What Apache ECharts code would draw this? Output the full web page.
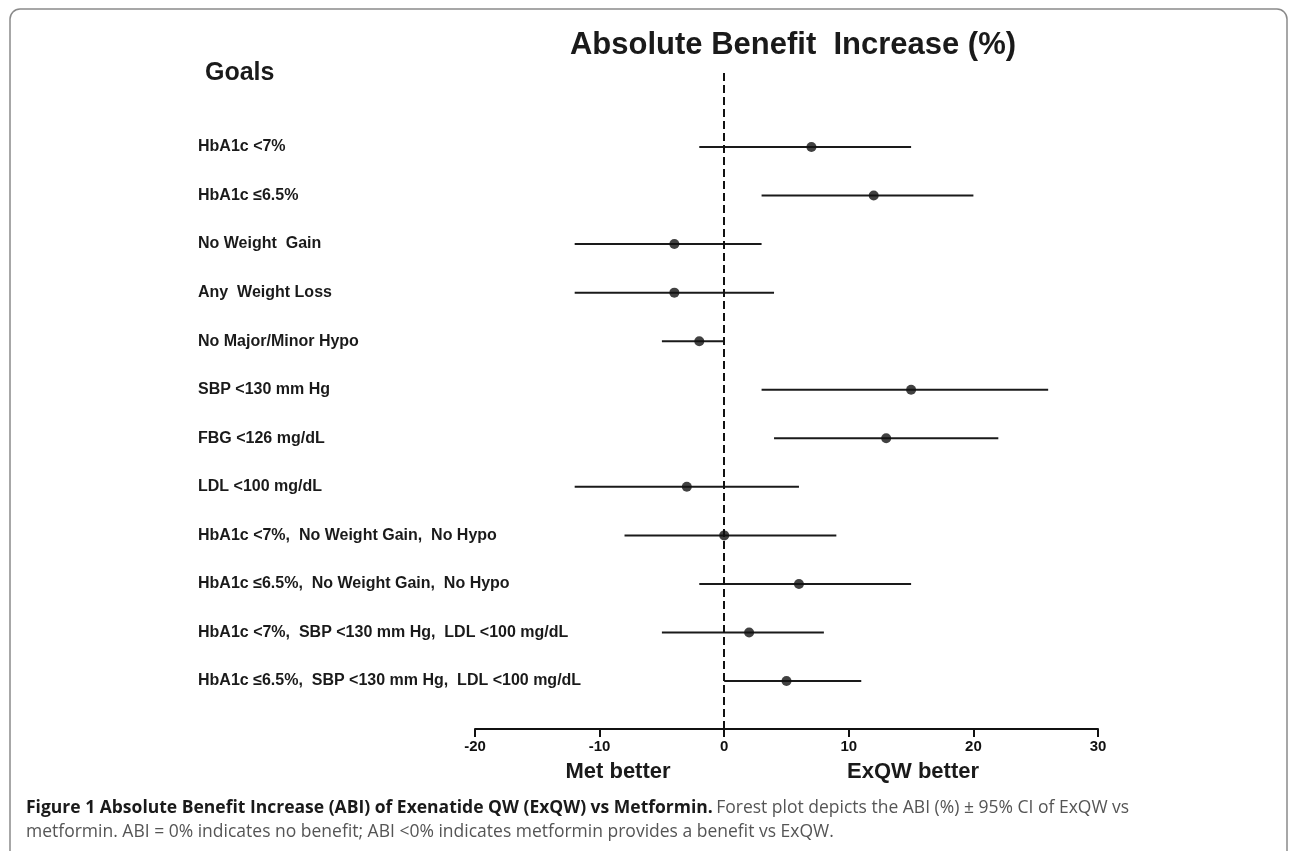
<!DOCTYPE html>
<html>
<head>
<meta charset="utf-8">
<script src="https://cdn.jsdelivr.net/npm/echarts@6/dist/echarts.min.js"></script>
<style>
html,body{margin:0;padding:0;background:#fff;}
#c{width:1292px;height:851px;}
</style>
</head>
<body>
<div id="c"></div>
<script>
const categories = [
  'HbA1c <7%',
  'HbA1c \u22646.5%',
  'No Weight  Gain',
  'Any  Weight Loss',
  'No Major/Minor Hypo',
  'SBP <130 mm Hg',
  'FBG <126 mg/dL',
  'LDL <100 mg/dL',
  'HbA1c <7%,  No Weight Gain,  No Hypo',
  'HbA1c \u22646.5%,  No Weight Gain,  No Hypo',
  'HbA1c <7%,  SBP <130 mm Hg,  LDL <100 mg/dL',
  'HbA1c \u22646.5%,  SBP <130 mm Hg,  LDL <100 mg/dL'
];
const estimates = [7, 12, -4, -4, -2, 15, 13, -3, 0, 6, 2, 5];
const lower     = [-2, 3, -12, -12, -5, 3, 4, -12, -8, -2, -5, 0];
const upper     = [15, 20, 3, 4, 0, 26, 22, 6, 9, 15, 8, 11];
const xTicks = { min: -20, max: 30, interval: 10 };

const chart = echarts.init(document.getElementById('c'), null, {renderer: 'canvas'});
const FONT = 'Liberation Sans, Arial, sans-serif';
const CAP = '"Open Sans", sans-serif';

const ciData = categories.map((c, i) => [lower[i], upper[i], i]);
const ptData = categories.map((c, i) => [estimates[i], i]);

chart.setOption({
  backgroundColor: '#fff',
  animation: false,
  grid: [
    {left: 475, right: 194, top: 69, bottom: 122},
    {left: 475, right: 194, top: 122.7, height: 582.6}
  ],
  xAxis: [
    {
      gridIndex: 0, type: 'value', min: xTicks.min, max: xTicks.max, interval: xTicks.interval,
      axisLine: {show: true, lineStyle: {color: '#111', width: 2}},
      axisTick: {show: true, length: 8, lineStyle: {color: '#111', width: 2}},
      axisLabel: {color: '#111', fontFamily: FONT, fontWeight: 'bold', fontSize: 15, margin: 10},
      splitLine: {show: false}
    },
    {
      gridIndex: 1, type: 'value', min: xTicks.min, max: xTicks.max, show: false, splitLine: {show: false}
    }
  ],
  yAxis: [
    {gridIndex: 0, type: 'value', min: 0, max: 1, show: false, splitLine: {show: false}},
    {
      gridIndex: 1, type: 'category', inverse: true, data: categories,
      axisLine: {show: false}, axisTick: {show: false}, splitLine: {show: false},
      axisLabel: {align: 'left', margin: 277, color: '#1a1a1a', fontFamily: FONT, fontWeight: 'bold', fontSize: 16}
    }
  ],
  series: [
    {
      type: 'scatter', xAxisIndex: 0, yAxisIndex: 0, data: [], silent: true,
      markLine: {
        silent: true, symbol: 'none', label: {show: false},
        lineStyle: {color: '#111', width: 2, type: [8, 4]},
        data: [{xAxis: 0}]
      }
    },
    {
      type: 'custom', xAxisIndex: 1, yAxisIndex: 1, data: ciData, silent: true,
      renderItem: function (params, api) {
        const p1 = api.coord([api.value(0), api.value(2)]);
        const p2 = api.coord([api.value(1), api.value(2)]);
        return {type: 'line', shape: {x1: p1[0], y1: p1[1], x2: p2[0], y2: p2[1]},
                style: {stroke: '#1a1a1a', lineWidth: 2}};
      }
    },
    {
      type: 'scatter', xAxisIndex: 1, yAxisIndex: 1, data: ptData, silent: true,
      symbol: 'circle', symbolSize: 10, itemStyle: {color: '#111'}, z: 5
    }
  ],
  graphic: [
    {type: 'rect', shape: {x: 10, y: 9, width: 1277, height: 870, r: 10},
     style: {fill: 'none', stroke: '#8a8a8a', lineWidth: 1.5}, silent: true},
    {type: 'text', x: 793, y: 45, style: {text: 'Absolute Benefit  Increase (%)', fill: '#1a1a1a',
      font: 'bold 31px ' + FONT, textAlign: 'center', textVerticalAlign: 'middle'}},
    {type: 'text', x: 205, y: 73, style: {text: 'Goals', fill: '#1a1a1a',
      font: 'bold 25px ' + FONT, textAlign: 'left', textVerticalAlign: 'middle'}},
    {type: 'text', x: 618, y: 772, style: {text: 'Met better', fill: '#1a1a1a',
      font: 'bold 22px ' + FONT, textAlign: 'center', textVerticalAlign: 'middle'}},
    {type: 'text', x: 913, y: 772, style: {text: 'ExQW better', fill: '#1a1a1a',
      font: 'bold 22px ' + FONT, textAlign: 'center', textVerticalAlign: 'middle'}},
    {type: 'text', x: 26, y: 808, style: {
      text: '{b|Figure 1 Absolute Benefit Increase (ABI) of Exenatide QW (ExQW) vs Metformin.} {n|Forest plot depicts the ABI (%) \u00b1 95% CI of ExQW vs}',
      textAlign: 'left', textVerticalAlign: 'middle',
      rich: {
        b: {font: 'bold 17.5px ' + CAP, fill: '#1a1a1a'},
        n: {font: '17.5px ' + CAP, fill: '#555'}
      }}},
    {type: 'text', x: 26, y: 832, style: {
      text: 'metformin. ABI = 0% indicates no benefit; ABI <0% indicates metformin provides a benefit vs ExQW.',
      font: '17.5px ' + CAP, fill: '#555',
      textAlign: 'left', textVerticalAlign: 'middle'}}
  ]
});
</script>
</body>
</html>
